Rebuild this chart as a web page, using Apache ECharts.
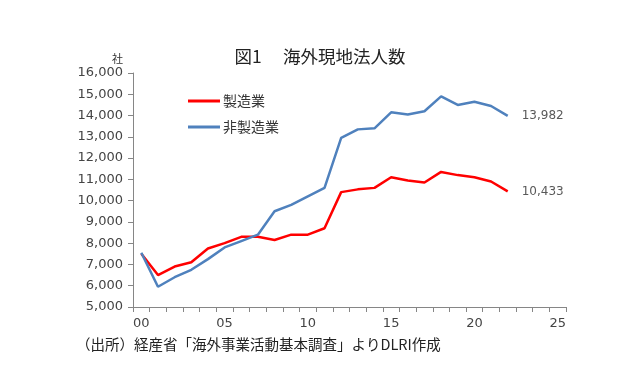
<!DOCTYPE html>
<html><head><meta charset="utf-8">
<script src="https://cdn.jsdelivr.net/npm/echarts@6/dist/echarts.min.js"></script>
<style>html,body{margin:0;padding:0;background:#fff}#c{width:640px;height:392px}</style>
</head><body><div id="c"></div>
<script>
const titleText = '図1\u3000 海外現地法人数';
const yUnit = '社';
const sourceNote = '（出所）経産省「海外事業活動基本調査」よりDLRI作成';
const categories = ['00','01','02','03','04','05','06','07','08','09','10','11','12','13','14','15','16','17','18','19','20','21','22','23','24','25'];
const seriesNames = ['製造業','非製造業'];
const manufacturing = [7500,6500,6900,7100,7750,8000,8300,8300,8150,8400,8400,8700,10400,10530,10600,11100,10950,10850,11350,11200,11100,10900,10433];
const nonManufacturing = [7550,5950,6400,6750,7250,7800,8100,8400,9500,9800,10200,10600,12950,13350,13400,14150,14050,14200,14900,14500,14650,14450,13982];
const yTicks = {min:5000, max:16000, interval:1000};

const FONT = '"Noto Sans CJK JP", "Noto Sans", sans-serif';
const NUMFONT = '"DejaVu Sans", sans-serif';
const fmt = v => Number(v).toLocaleString('en-US');
const chart = echarts.init(document.getElementById('c'), null, {renderer:'canvas'});
chart.setOption({
  animation:false,
  backgroundColor:'#fff',
  textStyle:{fontFamily:FONT},
  title:{text:titleText,left:'center',top:43,textStyle:{fontFamily:FONT,fontSize:17.5,fontWeight:'normal',color:'#222'}},
  legend:{orient:'vertical',left:183,top:89,itemWidth:32,itemHeight:3,itemGap:12,icon:'rect',
    textStyle:{fontFamily:FONT,fontSize:14,color:'#333',padding:[0,0,0,-2]},
    data:seriesNames},
  graphic:[
    {type:'text',left:76,top:337,style:{text:sourceNote,font:'14.5px '+FONT,fill:'#222'}}
  ],
  grid:{left:133,right:74,top:73,bottom:85,containLabel:false},
  xAxis:{type:'category',data:categories,boundaryGap:true,
    axisLine:{lineStyle:{color:'#868686'}},
    axisTick:{show:true,interval:0,length:5,lineStyle:{color:'#868686'}},
    axisLabel:{interval:4,color:'#444',fontSize:13,margin:10,fontFamily:NUMFONT},
    splitLine:{show:false}},
  yAxis:{type:'value',min:yTicks.min,max:yTicks.max,interval:yTicks.interval,
    name:yUnit,nameLocation:'end',nameGap:9,nameTextStyle:{color:'#333',fontSize:11,align:'right',padding:[0,10,0,0]},
    axisLine:{show:true,lineStyle:{color:'#868686'}},
    axisTick:{show:true,length:5,lineStyle:{color:'#868686'}},
    axisLabel:{color:'#444',fontSize:13,margin:10,formatter:fmt,fontFamily:NUMFONT},
    splitLine:{show:false}},
  series:[
    {name:seriesNames[0],type:'line',data:manufacturing,symbol:'none',color:'#FF0000',
      lineStyle:{width:2.5,color:'#FF0000'},
      endLabel:{show:true,formatter:p=>fmt(p.value),color:'#595959',fontSize:12,distance:14,fontFamily:NUMFONT}},
    {name:seriesNames[1],type:'line',data:nonManufacturing,symbol:'none',color:'#4F81BD',
      lineStyle:{width:2.5,color:'#4F81BD'},
      endLabel:{show:true,formatter:p=>fmt(p.value),color:'#595959',fontSize:12,distance:14,fontFamily:NUMFONT}}
  ]
});
</script></body></html>
